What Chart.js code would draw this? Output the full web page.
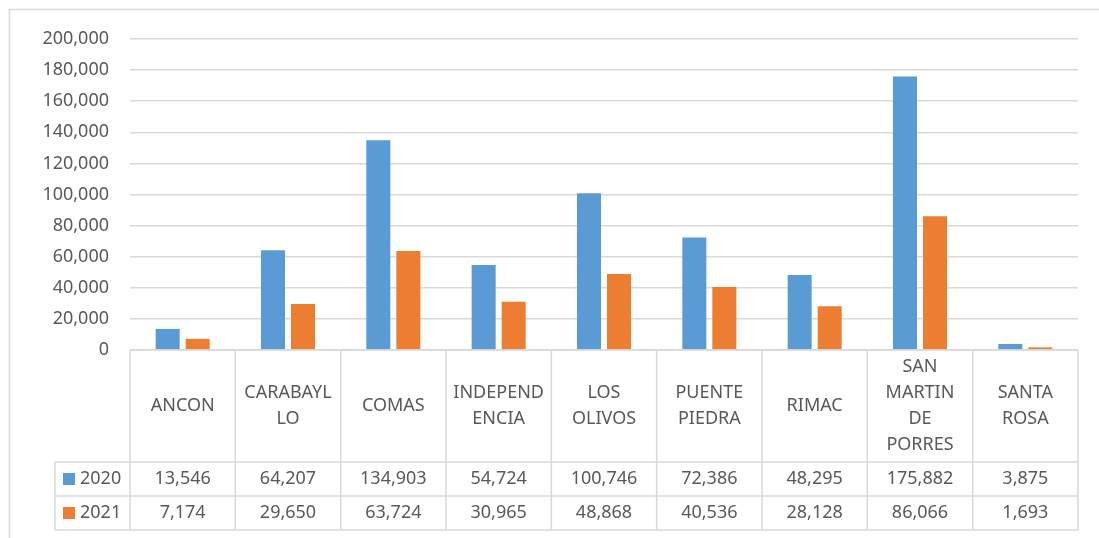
<!DOCTYPE html>
<html>
<head>
<meta charset="utf-8">
<script src="https://cdn.jsdelivr.net/npm/chart.js@4.4.0/dist/chart.umd.min.js"></script>
<style>
  html, body { margin: 0; padding: 0; background: #fff; }
  #wrap { position: relative; width: 1099px; height: 538px; }
</style>
</head>
<body>
<div id="wrap"><canvas id="chart" width="1099" height="538"></canvas></div>
<script>
// distritos (etiquetas en varias líneas, como en la tabla de datos)
const categories = [
    ['ANCON'],
    ['CARABAYL', 'LO'],
    ['COMAS'],
    ['INDEPEND', 'ENCIA'],
    ['LOS', 'OLIVOS'],
    ['PUENTE', 'PIEDRA'],
    ['RIMAC'],
    ['SAN', 'MARTIN', 'DE', 'PORRES'],
    ['SANTA', 'ROSA']
];
const seriesNames = ['2020', '2021'];
const values2020 = [13546, 64207, 134903, 54724, 100746, 72386, 48295, 175882, 3875];
const values2021 = [7174, 29650, 63724, 30965, 48868, 40536, 28128, 86066, 1693];
const yTicks = [0, 20000, 40000, 60000, 80000, 100000, 120000, 140000, 160000, 180000, 200000];

const BLUE = '#5B9BD5';
const ORANGE = '#ED7D31';
const LINE = '#D9D9D9';
const TEXT = '#595959';
const FONT = '18px "Noto Sans", sans-serif';

const fmt = v => v.toLocaleString('en-US');

// marco exterior + tabla de datos debajo del eje X
const dataTable = {
    id: 'dataTable',
    beforeDraw(chart) {
        const c = chart.ctx;
        c.save();
        c.strokeStyle = LINE;
        c.lineWidth = 1.5;
        c.beginPath();
        c.moveTo(9.5, 538);
        c.lineTo(9.5, 9.5);
        c.lineTo(1099, 9.5);
        c.stroke();
        c.restore();
    },
    afterDraw(chart) {
        const c = chart.ctx;
        const x = chart.scales.x;
        const area = chart.chartArea;
        const n = categories.length;
        const w = (area.right - area.left) / n;
        const top = area.bottom;
        const rowCat = top + 112;
        const row1 = rowCat + 34;
        const row2 = row1 + 34;
        const legendLeft = 55;

        c.save();
        c.strokeStyle = LINE;
        c.lineWidth = 1.5;
        c.beginPath();
        // horizontales
        c.moveTo(area.left, top); c.lineTo(area.right, top);
        [rowCat, row1, row2].forEach(y => { c.moveTo(legendLeft, y); c.lineTo(area.right, y); });
        // verticales
        c.moveTo(legendLeft, rowCat); c.lineTo(legendLeft, row2);
        for (let i = 0; i <= n; i++) {
            const xx = area.left + i * w;
            c.moveTo(xx, top); c.lineTo(xx, row2);
        }
        c.stroke();

        c.fillStyle = TEXT;
        c.font = FONT;
        c.textAlign = 'center';
        c.textBaseline = 'middle';
        const lh = 26;
        categories.forEach((lines, i) => {
            const cx = x.getPixelForValue(i);
            const cy = (top + rowCat) / 2;
            lines.forEach((t, j) => {
                c.fillText(t, cx, cy + (j - (lines.length - 1) / 2) * lh);
            });
            c.fillText(fmt(values2020[i]), cx, (rowCat + row1) / 2);
            c.fillText(fmt(values2021[i]), cx, (row1 + row2) / 2);
        });

        // leyenda en la tabla
        c.textAlign = 'left';
        [[BLUE, rowCat, row1], [ORANGE, row1, row2]].forEach(([col, a, b], k) => {
            const cy = (a + b) / 2;
            c.fillStyle = col;
            c.fillRect(63, cy - 6, 12, 12);
            c.fillStyle = TEXT;
            c.fillText(seriesNames[k], 80, cy);
        });
        c.restore();
    }
};

Chart.defaults.font.family = '"Noto Sans", sans-serif';
Chart.defaults.font.size = 18;
Chart.defaults.color = TEXT;

new Chart(document.getElementById('chart'), {
    type: 'bar',
    data: {
        labels: categories,
        datasets: [
            { label: seriesNames[0], data: values2020, backgroundColor: BLUE, categoryPercentage: 0.57, barPercentage: 0.8 },
            { label: seriesNames[1], data: values2021, backgroundColor: ORANGE, categoryPercentage: 0.57, barPercentage: 0.8 }
        ]
    },
    options: {
        responsive: false,
        animation: false,
        layout: { padding: { left: 0, right: 21, top: 39, bottom: 188 } },
        plugins: {
            legend: { display: false },
            tooltip: { enabled: false }
        },
        scales: {
            x: {
                display: false
            },
            y: {
                min: yTicks[0],
                max: yTicks[yTicks.length - 1],
                afterBuildTicks: s => { s.ticks = yTicks.map(v => ({ value: v })); },
                afterFit: s => { s.width = 130; },
                border: { display: false },
                grid: { color: LINE, lineWidth: 1.5, drawTicks: false },
                ticks: {
                    padding: 21,
                    color: TEXT,
                    callback: v => fmt(v)
                }
            }
        }
    },
    plugins: [dataTable]
});
</script>
</body>
</html>
